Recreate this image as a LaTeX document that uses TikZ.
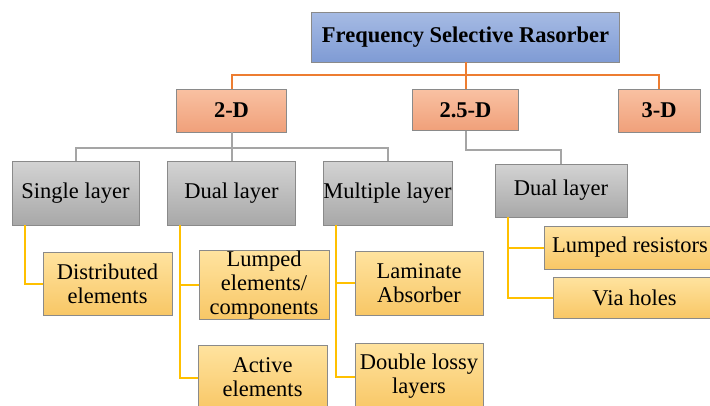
\documentclass[tikz,border=0pt]{standalone}
\usepackage{fontspec}
\setmainfont{Liberation Serif}
\usetikzlibrary{calc}
\definecolor{blueT}{HTML}{A6BBE4}
\definecolor{blueB}{HTML}{7F9BD4}
\definecolor{salT}{HTML}{F9C1A2}
\definecolor{salB}{HTML}{F0A07A}
\definecolor{grayT}{HTML}{D3D3D3}
\definecolor{grayB}{HTML}{A8A8A8}
\definecolor{yelT}{HTML}{FFE39F}
\definecolor{yelB}{HTML}{F8C766}
\definecolor{edgeC}{HTML}{8A8A8A}
\definecolor{orL}{HTML}{ED7D31}
\definecolor{grL}{HTML}{A5A5A5}
\definecolor{yeL}{HTML}{FFC000}
\tikzset{
  basebox/.style={draw=edgeC, line width=0.9pt, inner sep=0pt, align=center,
    font=\fontsize{22.5}{24}\selectfont},
  topbox/.style={basebox, top color=blueT, bottom color=blueB, font=\fontsize{22.5}{24}\selectfont\bfseries},
  dimbox/.style={basebox, top color=salT, bottom color=salB, font=\fontsize{22.5}{24}\selectfont\bfseries},
  laybox/.style={basebox, top color=grayT, bottom color=grayB},
  leafbox/.style={basebox, top color=yelT, bottom color=yelB},
  orline/.style={draw=orL, line width=2pt},
  grline/.style={draw=grL, line width=2pt},
  yeline/.style={draw=yeL, line width=2pt},
}
\begin{document}
\begin{tikzpicture}[x=1pt,y=-1pt]
\useasboundingbox (0,0) rectangle (710,405);
% level 0
\node[topbox, minimum width=308pt, minimum height=50pt] (top) at (465.5,37) {Frequency Selective Rasorber};
% level 1
\node[dimbox, minimum width=110pt, minimum height=43pt] (d2) at (231.5,110.5) {2-D};
\node[dimbox, minimum width=106pt, minimum height=41pt] (d25) at (465.5,110) {2.5-D};
\node[dimbox, minimum width=82pt, minimum height=43pt] (d3) at (659,110.5) {3-D};
% level 2
\node[laybox, minimum width=127pt, minimum height=64pt] (s1) at (75.5,193) {Single layer};
\node[laybox, minimum width=128pt, minimum height=64pt] (s2) at (231.5,193) {Dual layer};
\node[laybox, minimum width=129pt, minimum height=64pt] (s3) at (387.5,193) {Multiple layer};
\node[laybox, minimum width=132pt, minimum height=53pt] (s4) at (561,190.5) {Dual layer};
% leaves
\node[leafbox, minimum width=129pt, minimum height=63pt] (e1) at (107.5,283.5) {Distributed\\elements};
\node[leafbox, minimum width=130pt, minimum height=68pt] (e2) at (264,285) {Lumped\\elements/\\components};
\node[leafbox, minimum width=129pt, minimum height=65pt] (e3) at (262.5,377.5) {Active\\elements};
\node[leafbox, minimum width=128pt, minimum height=64pt] (e4) at (419,283) {Laminate\\Absorber};
\node[leafbox, minimum width=128pt, minimum height=67pt] (e5) at (419,376.5) {Double lossy\\layers};
\node[leafbox, minimum width=172pt, minimum height=43pt] (e6) at (630,247.5) {Lumped resistors};
\node[leafbox, minimum width=163pt, minimum height=41pt] (e7) at (634.5,297.5) {Via holes};
% connectors: orange
\coordinate (ob) at (465.5,75);
\draw[orline] (top.south) -- (d25.north);
\draw[orline] (d2.north) |- (ob) -| (d3.north);
% gray
\coordinate (gb) at (231.5,148);
\draw[grline] (d2.south) -- (s2.north);
\draw[grline] (s1.north) |- (gb) -| (s3.north);
\coordinate (gc) at (465.5,150);
\draw[grline] (d25.south) -- (gc) -| (s4.north);
% yellow
\coordinate (y1) at ($(s1.south west)+(13,0)$);
\coordinate (y2) at ($(s2.south west)+(13,0)$);
\coordinate (y3) at ($(s3.south west)+(13,0)$);
\coordinate (y4) at ($(s4.south west)+(13,0)$);
\draw[yeline] (y1) |- (e1.west);
\draw[yeline] (y2) |- (e3.west);
\draw[yeline] (y2) |- (e2.west);
\draw[yeline] (y3) |- (e5.west);
\draw[yeline] (y3) |- (e4.west);
\draw[yeline] (y4) |- (e7.west);
\draw[yeline] (y4) |- (e6.west);
\end{tikzpicture}
\end{document}
